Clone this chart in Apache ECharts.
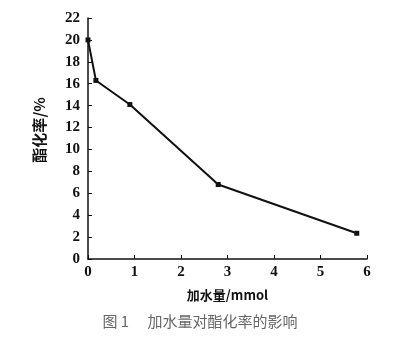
<!DOCTYPE html>
<html>
<head>
<meta charset="utf-8">
<script src="https://cdn.jsdelivr.net/npm/echarts@6/dist/echarts.min.js"></script>
<style>
  html, body { margin: 0; padding: 0; background: #fff; }
  #chart { width: 395px; height: 337px; }
</style>
</head>
<body>
<div id="chart"></div>
<script>
// Water added (mmol) vs. esterification rate (%)
const waterAdded = [0, 0.17, 0.9, 2.8, 5.78];
const esterRate = [20.0, 16.3, 14.1, 6.8, 2.35];
const xName = '加水量/mmol';
const yName = '酯化率/%';
const caption = '图 1　 加水量对酯化率的影响';

const serif = '"Liberation Serif", "Noto Sans CJK SC", serif';
const cjk = '"Noto Sans CJK SC", "Liberation Serif", serif';
const chart = echarts.init(document.getElementById('chart'));
chart.setOption({
  backgroundColor: '#fff',
  animation: false,
  grid: { left: 88, right: 28, top: 18, bottom: 78 },
  graphic: [{
    type: 'text',
    x: 200,
    y: 321,
    style: {
      text: caption,
      font: '15px "Noto Sans CJK SC", sans-serif',
      fill: '#666',
      align: 'center',
      verticalAlign: 'middle'
    }
  }, {
    type: 'text',
    x: 39,
    y: 130,
    rotation: Math.PI / 2,
    style: {
      text: yName,
      font: 'bold 15px ' + cjk,
      fill: '#111',
      align: 'center',
      verticalAlign: 'middle'
    }
  }],
  xAxis: {
    type: 'value',
    min: 0, max: 6, interval: 1,
    name: xName,
    nameLocation: 'middle',
    nameGap: 30,
    nameTextStyle: { fontFamily: cjk, fontWeight: 'bold', fontSize: 13, color: '#111' },
    axisLine: { lineStyle: { color: '#111', width: 1.5 } },
    axisTick: { inside: true, length: 4, lineStyle: { color: '#111' } },
    axisLabel: { fontFamily: serif, fontSize: 15, fontWeight: 'bold', color: '#111', margin: 6 },
    splitLine: { show: false }
  },
  yAxis: {
    type: 'value',
    min: 0, max: 22, interval: 2,
    axisLine: { show: true, lineStyle: { color: '#111', width: 1.5 } },
    axisTick: { show: true, inside: true, length: 4, lineStyle: { color: '#111' } },
    axisLabel: { fontFamily: serif, fontSize: 15, fontWeight: 'bold', color: '#111', margin: 8 },
    splitLine: { show: false }
  },
  series: [{
    type: 'line',
    data: waterAdded.map((x, i) => [x, esterRate[i]]),
    symbol: 'rect',
    symbolSize: 5,
    itemStyle: { color: '#111' },
    lineStyle: { color: '#111', width: 2 }
  }]
});
</script>
</body>
</html>
